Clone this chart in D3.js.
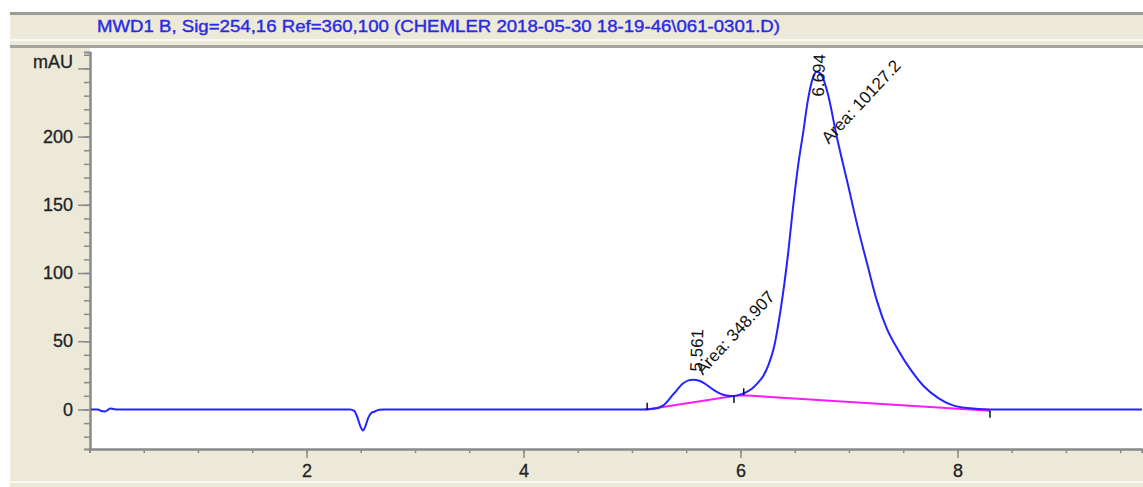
<!DOCTYPE html>
<html>
<head>
<meta charset="utf-8">
<script src="https://cdn.jsdelivr.net/npm/d3@7"></script>
<style>
  body { margin: 0; background: #fff; }
  text { font-family: "Liberation Sans", Arial, sans-serif; }
</style>
</head>
<body>
<div id="chromatogram"></div>
<script>
// detector trace: retention time (min) and signal (mAU)
var traceTimes = [0, 0.08, 0.11, 0.14, 0.17, 0.19, 0.22, 0.26,
    2.40, 2.44, 2.47, 2.50, 2.52, 2.54, 2.57, 2.60, 2.63, 2.67, 2.72,
    5.10, 5.20, 5.29, 5.38, 5.47, 5.52, 5.565, 5.62, 5.66, 5.75, 5.84, 5.92, 5.97,
    6.05, 6.11, 6.16, 6.21, 6.26, 6.31, 6.37, 6.44, 6.48, 6.53, 6.58, 6.62, 6.66,
    6.70, 6.74, 6.80, 6.89, 6.99, 7.08, 7.17, 7.26, 7.35, 7.45, 7.57, 7.69, 7.82,
    7.94, 8.09, 8.30, 9.70];
var traceValues = [0, 0, -1.2, -1.5, -0.3, 0.6, 0.3, 0,
    0, -1, -6, -13, -15.5, -13, -6, -2.5, -1.5, -0.3, 0,
    0, 0.5, 3, 11, 19, 21.3, 21.8, 21, 19.5, 14.5, 10.8, 9.8, 10.3,
    12.5, 15.5, 19.5, 24.5, 33, 46, 73, 115, 145, 178, 204, 226, 241,
    247.5, 246, 233, 199, 165, 134, 106, 79, 59, 44, 29, 17, 8.5,
    3.5, 1, 0, 0];

// integration baseline (magenta)
var baseTimes = [5.12, 5.94, 6.02, 8.30];
var baseValues = [-0.3, 9.8, 10.4, -1.0];

// peak start / end marks
var markTimes = [5.14, 5.94, 6.03, 8.30];
var markValues = [-0.2, 9.8, 10.4, -1.0];
var markDirs = [1, -1, 1, -1];

// peak annotations
var peakTimes = [5.561, 6.694];
var peakHeights = [21.8, 247.5];
var peakAreas = ["348.907", "10127.2"];

// axes
var xMajorTicks = [2, 4, 6, 8];
var yMajorTicks = [0, 50, 100, 150, 200, 250];
var yTickLabels = ["0", "50", "100", "150", "200", "mAU"];
var title = "MWD1 B, Sig=254,16 Ref=360,100 (CHEMLER 2018-05-30 18-19-46\\061-0301.D)";

var width = 1143, height = 487;
var panel = "#ece9d8";

var svg = d3.select("#chromatogram")
    .append("svg")
        .attr("width", width)
        .attr("height", height)
        .style("display", "block");

// window chrome
svg.append("rect").attr("width", width).attr("height", height).attr("fill", "#fff");
svg.append("rect").attr("x", 10).attr("y", 12).attr("width", width - 10).attr("height", 36).attr("fill", panel);
svg.append("rect").attr("x", 10).attr("y", 12).attr("width", width - 10).attr("height", 3).attr("fill", "#9c9c94");
svg.append("rect").attr("x", 10).attr("y", 39).attr("width", width - 10).attr("height", 2).attr("fill", "#f8f8f0");
svg.append("rect").attr("x", 10).attr("y", 45).attr("width", width - 10).attr("height", 3).attr("fill", "#a4a49c");
svg.append("rect").attr("x", 10).attr("y", 48).attr("width", 80).attr("height", height - 48).attr("fill", panel);
svg.append("rect").attr("x", 10).attr("y", 449).attr("width", width - 10).attr("height", height - 449).attr("fill", panel);
svg.append("rect").attr("x", 10).attr("y", 481).attr("width", width - 10).attr("height", 2).attr("fill", "#f8f8f0");

svg.append("text")
    .attr("x", 97)
    .attr("y", 32)
    .attr("textLength", 683)
    .attr("lengthAdjust", "spacingAndGlyphs")
    .style("font-size", "17px")
    .style("fill", "#2a2ae6")
    .style("stroke", "#2a2ae6")
    .style("stroke-width", 0.4)
    .text(title);

// scales
var x = d3.scaleLinear().domain([0, 9.7]).range([89.5, 1141.9]);
var y = d3.scaleLinear().domain([-29, 262]).range([449, 52]);

// minor ticks
var xMinor = svg.append("g")
    .attr("transform", "translate(0,449)")
    .call(d3.axisBottom(x).tickValues(d3.range(0.5, 9.7, 0.5)).tickSize(4).tickFormat(""));
var yMinor = svg.append("g")
    .attr("transform", "translate(90,0)")
    .call(d3.axisLeft(y).tickValues(d3.range(-20, 261, 10)).tickSize(6).tickFormat(""));

// major ticks and labels
var xAxis = svg.append("g")
    .attr("transform", "translate(0,449)")
    .call(d3.axisBottom(x).tickValues(xMajorTicks).tickSize(9).tickPadding(6).tickSizeOuter(0));
var yAxis = svg.append("g")
    .attr("transform", "translate(90,0)")
    .call(d3.axisLeft(y).tickValues(yMajorTicks).tickSize(12).tickPadding(5).tickSizeOuter(0)
        .tickFormat(function(d, i) { return yTickLabels[i]; }));

[xMinor, yMinor, xAxis, yAxis].forEach(function(g) {
    g.selectAll(".domain").attr("stroke", "#8a8a8a").attr("stroke-width", 2);
    g.selectAll(".tick line").attr("stroke", "#8a8a8a").attr("stroke-width", 1.5);
    g.selectAll(".tick text").style("font-size", "18px").style("fill", "#222")
        .style("stroke", "#222").style("stroke-width", 0.3);
});
yAxis.selectAll(".tick text").filter(function(d) { return d === 250; }).attr("dy", "-0.05em");

// plot contents, clipped to the white area
svg.append("clipPath").attr("id", "plotclip")
    .append("rect").attr("x", 91).attr("y", 48).attr("width", width - 91).attr("height", 400);
var plot = svg.append("g").attr("clip-path", "url(#plotclip)");

var baseLine = d3.line()
    .x(function(d) { return x(d[0]); })
    .y(function(d) { return y(d[1]); });
plot.append("path")
    .datum(d3.zip(baseTimes, baseValues))
    .attr("fill", "none")
    .attr("stroke", "#ff1aff")
    .attr("stroke-width", 2)
    .attr("d", baseLine);

var traceLine = d3.line()
    .curve(d3.curveMonotoneX)
    .x(function(d) { return x(d[0]); })
    .y(function(d) { return y(d[1]); });
plot.append("path")
    .datum(d3.zip(traceTimes, traceValues))
    .attr("fill", "none")
    .attr("stroke", "#2323ff")
    .attr("stroke-width", 2)
    .attr("d", traceLine);

// start / end marks
plot.selectAll(".mark")
    .data(d3.zip(markTimes, markValues, markDirs))
    .enter()
    .append("line")
        .attr("x1", function(d) { return x(d[0]); })
        .attr("x2", function(d) { return x(d[0]); })
        .attr("y1", function(d) { return y(d[1]); })
        .attr("y2", function(d) { return y(d[1]) - 7 * d[2]; })
        .attr("stroke", "#111")
        .attr("stroke-width", 1.5);

// retention time labels
var rtOffsets = [[9, -8], [8, 25]];
svg.selectAll(".rt")
    .data(peakTimes)
    .enter()
    .append("text")
        .attr("transform", function(d, i) {
            return "translate(" + (x(d) + rtOffsets[i][0]) + "," + (y(peakHeights[i]) + rtOffsets[i][1]) + ") rotate(-88)";
        })
        .style("font-size", "17px")
        .style("fill", "#111")
        .text(function(d) { return d3.format(".3f")(d); });

// area labels
var areaOffsets = [[10, -4], [13, 73]];
svg.selectAll(".area")
    .data(peakAreas)
    .enter()
    .append("text")
        .attr("transform", function(d, i) {
            return "translate(" + (x(peakTimes[i]) + areaOffsets[i][0]) + "," + (y(peakHeights[i]) + areaOffsets[i][1]) + ") rotate(-47)";
        })
        .style("font-size", "17px")
        .style("fill", "#111")
        .text(function(d) { return "Area: " + d; });
</script>
</body>
</html>
